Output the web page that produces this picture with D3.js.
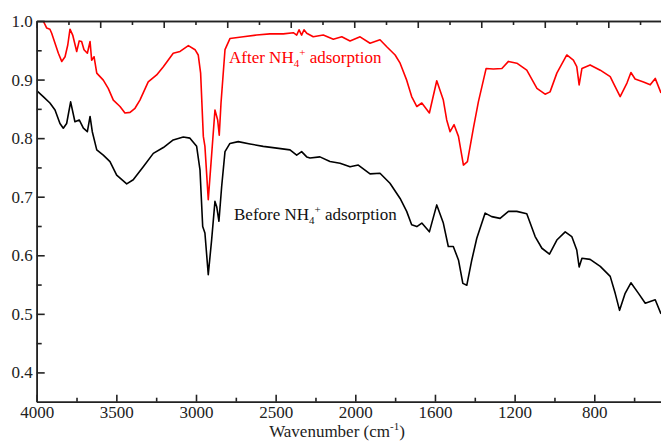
<!DOCTYPE html>
<html>
<head>
<meta charset="utf-8">
<title>FTIR spectra</title>
<script src="https://d3js.org/d3.v7.min.js"></script>
<style>
  body { margin: 0; background: #fff; }
  svg text { font-family: "Liberation Serif", "Times New Roman", serif; }
  .axis path, .axis line { stroke: #222; stroke-width: 1.6; }
  .axis text { font-size: 17px; fill: #222; }
</style>
</head>
<body>
<div id="chart"></div>
<script>
// spectrum after NH4+ adsorption (red)
const afterWavenumber = [4000, 3959, 3937, 3917, 3906, 3885, 3864, 3843, 3822, 3805, 3791, 3774, 3749, 3733, 3718, 3703, 3682, 3665, 3655, 3640,
  3623, 3582, 3551, 3519, 3477, 3446, 3414, 3383, 3352, 3300, 3247, 3205, 3143, 3100, 3048, 3006, 2986, 2971, 2954, 2944,
  2923, 2902, 2881, 2864, 2854, 2843, 2818, 2787, 2703, 2619, 2536, 2452, 2389, 2368, 2353, 2337, 2322, 2305, 2264, 2201,
  2138, 2085, 2033, 1976, 1926, 1876, 1842, 1800, 1775, 1742, 1717, 1691, 1666, 1628, 1591, 1558, 1541, 1524, 1504, 1482,
  1457, 1437, 1407, 1382, 1343, 1307, 1264, 1231, 1189, 1139, 1088, 1047, 1022, 988, 938, 905, 888, 876, 862, 821,
  770, 720, 704, 670, 636, 616, 595, 553, 519, 494, 465];
const afterValue = [1.012, 1.0, 0.988, 0.986, 0.979, 0.962, 0.945, 0.931, 0.939, 0.959, 0.986, 0.976, 0.948, 0.966, 0.965, 0.951, 0.945, 0.965, 0.933, 0.939,
  0.911, 0.899, 0.885, 0.865, 0.854, 0.843, 0.844, 0.851, 0.865, 0.896, 0.908, 0.922, 0.945, 0.948, 0.958, 0.951, 0.942, 0.911, 0.803, 0.786,
  0.695, 0.771, 0.848, 0.831, 0.805, 0.860, 0.951, 0.970, 0.973, 0.976, 0.978, 0.978, 0.980, 0.976, 0.985, 0.976, 0.985, 0.979, 0.973, 0.976,
  0.969, 0.973, 0.966, 0.973, 0.962, 0.968, 0.956, 0.942, 0.928, 0.899, 0.871, 0.854, 0.860, 0.843, 0.898, 0.865, 0.831, 0.811, 0.823, 0.803,
  0.754, 0.760, 0.817, 0.862, 0.919, 0.918, 0.919, 0.931, 0.928, 0.916, 0.885, 0.875, 0.879, 0.911, 0.942, 0.933, 0.922, 0.891, 0.919, 0.925,
  0.916, 0.905, 0.894, 0.871, 0.894, 0.912, 0.901, 0.896, 0.891, 0.902, 0.877];

// spectrum before NH4+ adsorption (black)
const beforeWavenumber = [4000, 3959, 3917, 3885, 3854, 3833, 3812, 3787, 3760, 3733, 3707, 3682, 3665, 3651, 3623, 3582, 3540, 3498, 3435, 3394,
  3331, 3268, 3205, 3143, 3080, 3038, 2996, 2975, 2958, 2944, 2923, 2902, 2881, 2870, 2856, 2839, 2818, 2787, 2735, 2661,
  2578, 2493, 2410, 2368, 2337, 2305, 2284, 2222, 2159, 2096, 2033, 1985, 1926, 1876, 1826, 1775, 1742, 1717, 1691, 1666,
  1628, 1591, 1558, 1533, 1508, 1482, 1460, 1440, 1415, 1390, 1348, 1315, 1273, 1231, 1189, 1139, 1097, 1063, 1025, 988,
  946, 913, 888, 876, 862, 821, 770, 720, 695, 673, 645, 616, 578, 544, 519, 494, 465];
const beforeValue = [0.881, 0.871, 0.860, 0.848, 0.825, 0.817, 0.825, 0.862, 0.828, 0.831, 0.817, 0.811, 0.837, 0.811, 0.780, 0.771, 0.760, 0.737, 0.722, 0.729,
  0.751, 0.774, 0.784, 0.797, 0.802, 0.800, 0.786, 0.746, 0.649, 0.638, 0.567, 0.626, 0.692, 0.683, 0.658, 0.717, 0.777, 0.791, 0.794, 0.790,
  0.786, 0.783, 0.780, 0.771, 0.777, 0.768, 0.766, 0.768, 0.760, 0.757, 0.751, 0.754, 0.739, 0.740, 0.723, 0.697, 0.675, 0.652, 0.649, 0.655,
  0.640, 0.686, 0.655, 0.615, 0.615, 0.592, 0.552, 0.549, 0.592, 0.629, 0.672, 0.666, 0.663, 0.675, 0.675, 0.671, 0.632, 0.612, 0.602, 0.626,
  0.640, 0.632, 0.609, 0.580, 0.595, 0.593, 0.581, 0.564, 0.535, 0.506, 0.535, 0.553, 0.535, 0.518, 0.521, 0.524, 0.500];

// ticks
const xMajorTicks = [4000, 3500, 3000, 2500, 2000, 1600, 1200, 800];
const xMinorTicks = [3750, 3250, 2750, 2250, 1800, 1400, 1000, 600];
const yMajorTicks = [0.4, 0.5, 0.6, 0.7, 0.8, 0.9, 1.0];
const yMinorTicks = [0.45, 0.55, 0.65, 0.75, 0.85, 0.95];

const width = 661, height = 441;
const plotLeft = 36.7, plotRight = 661, plotTop = 21, plotBottom = 401.7;
const serif = '"Liberation Serif", "Times New Roman", serif';

const svg = d3.select("#chart").append("svg")
  .attr("width", width)
  .attr("height", height);

// x axis has a break in scale at 2000 cm-1
const x = d3.scaleLinear().domain([4000, 2000, 465]).range([plotLeft, 355.3, plotRight]);
const y = d3.scaleLinear().domain([0.35, 1.0]).range([plotBottom, plotTop]);
// top axis is evenly ticked, unlabelled
const xTop = d3.scaleLinear().domain([0, 19.66]).range([plotLeft, plotRight]);

svg.append("clipPath").attr("id", "plot-clip")
  .append("rect")
  .attr("x", plotLeft).attr("y", plotTop)
  .attr("width", plotRight - plotLeft).attr("height", plotBottom - plotTop);

const line = d3.line().x(d => x(d[0])).y(d => y(d[1]));

svg.append("path")
  .datum(d3.zip(afterWavenumber, afterValue))
  .attr("clip-path", "url(#plot-clip)")
  .attr("fill", "none").attr("stroke", "#ff0000").attr("stroke-width", 1.6)
  .attr("stroke-linejoin", "round")
  .attr("d", line);

svg.append("path")
  .datum(d3.zip(beforeWavenumber, beforeValue))
  .attr("clip-path", "url(#plot-clip)")
  .attr("fill", "none").attr("stroke", "#000").attr("stroke-width", 1.6)
  .attr("stroke-linejoin", "round")
  .attr("d", line);

// axes
function axisGroup(tx, ty, axis) {
  return svg.append("g").attr("class", "axis")
    .attr("transform", `translate(${tx},${ty})`)
    .call(axis)
    .attr("font-family", serif)
    .attr("font-size", 17);
}
axisGroup(0, plotBottom, d3.axisBottom(x).tickValues(xMinorTicks).tickSize(-4).tickSizeOuter(0).tickFormat(""));
axisGroup(0, plotBottom, d3.axisBottom(x).tickValues(xMajorTicks).tickSize(-7).tickSizeOuter(0).tickPadding(4).tickFormat(d3.format("d")));
axisGroup(plotLeft, 0, d3.axisLeft(y).tickValues(yMinorTicks).tickSize(-5).tickSizeOuter(0).tickFormat(""));
axisGroup(plotLeft, 0, d3.axisLeft(y).tickValues(yMajorTicks).tickSize(-8).tickSizeOuter(0).tickPadding(4).tickFormat(d3.format(".1f")));
axisGroup(0, plotTop, d3.axisTop(xTop).tickValues(d3.range(1, 20, 2)).tickSize(-4).tickSizeOuter(0).tickFormat(""));
axisGroup(0, plotTop, d3.axisTop(xTop).tickValues(d3.range(0, 20, 2)).tickSize(-7).tickSizeOuter(0).tickFormat(""));
svg.selectAll(".axis text").attr("font-family", serif).style("font-family", serif);

// series labels
function label(xp, yp, color, word) {
  const t = svg.append("text").attr("x", xp).attr("y", yp)
    .attr("fill", color).style("font-size", "17px");
  t.append("tspan").text(word + " NH");
  t.append("tspan").attr("dy", 4).style("font-size", "11px").text("4");
  t.append("tspan").attr("dy", -11).style("font-size", "11px").text("+");
  t.append("tspan").attr("dy", 7).text(" adsorption");
}
label(229, 63, "#ff0000", "After");
label(234, 220, "#111", "Before");

// axis title
const title = svg.append("text")
  .attr("x", 337).attr("y", 437)
  .attr("text-anchor", "middle")
  .attr("fill", "#222")
  .style("font-size", "17px");
title.append("tspan").text("Wavenumber (cm");
title.append("tspan").attr("dy", -7).style("font-size", "11px").text("-1");
title.append("tspan").attr("dy", 7).text(")");
</script>
</body>
</html>
